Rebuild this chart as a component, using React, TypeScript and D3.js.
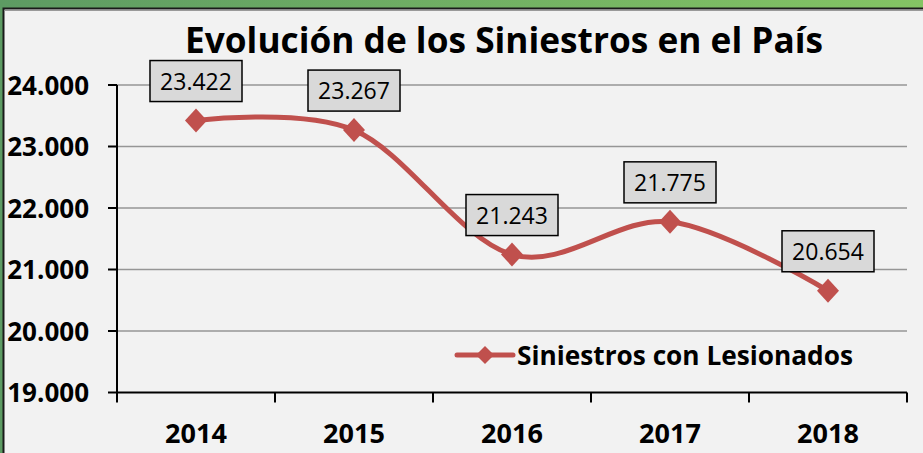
import React from "react";
import * as d3 from "d3";

const years = ["2014", "2015", "2016", "2017", "2018"];
const values = [23422, 23267, 21243, 21775, 20654];
const yTicks = [19000, 20000, 21000, 22000, 23000, 24000];
const seriesName = "Siniestros con Lesionados";
const title = "Evolución de los Siniestros en el País";

const W = 923;
const H = 453;
const RED = "#c0504d";
const FONT = "'Open Sans', 'DejaVu Sans', sans-serif";

const fmt = (v: number) => d3.format(",")(v).replace(/,/g, ".");

export default function App() {
  const x = d3.scaleBand<string>().domain(years).range([117, 907]);
  const y = d3.scaleLinear().domain([19000, 24000]).range([392.5, 85]);
  const cx = (yr: string) => (x(yr) as number) + x.bandwidth() / 2;

  const line = d3
    .line<number>()
    .x((_, i) => cx(years[i]))
    .y((v) => y(v))
    .curve(d3.curveCardinal.tension(0));

  const diamond = (px: number, py: number, w: number, h: number) =>
    `M${px},${py - h} L${px + w},${py} L${px},${py + h} L${px - w},${py} Z`;

  const boundaries = [...years.map((yr) => x(yr) as number), 907];

  return (
    <svg
      width={W}
      height={H}
      style={{ position: "absolute", left: 0, top: 0, display: "block" }}
    >
      <defs>
        <linearGradient id="grn" x1="0" x2="1" y1="0" y2="0">
          <stop offset="0" stopColor="#5d9b63" />
          <stop offset="1" stopColor="#84c464" />
        </linearGradient>
      </defs>
      <rect x={0} y={0} width={W} height={H} fill="url(#grn)" />
      <rect
        x={3.5}
        y={8.5}
        width={W + 10}
        height={H + 10}
        fill="#f2f2f2"
        stroke="#1a1a1a"
        strokeWidth={2}
      />
      <line x1={4.5} x2={W} y1={10.5} y2={10.5} stroke="#9a9a9a" strokeWidth={1} />

      <text
        x={504}
        y={53}
        textAnchor="middle"
        fontFamily={FONT}
        fontWeight="bold"
        fontSize={35}
        textLength={638}
        lengthAdjust="spacingAndGlyphs"
        fill="#000"
      >
        {title}
      </text>

      {/* gridlines */}
      {yTicks
        .filter((t) => t > 19000)
        .map((t) => (
          <line
            key={t}
            x1={117}
            x2={907}
            y1={y(t)}
            y2={y(t)}
            stroke="#969696"
            strokeWidth={1.6}
          />
        ))}

      {/* y axis */}
      <line x1={117} x2={117} y1={y(24000)} y2={y(19000)} stroke="#000" strokeWidth={2} />
      {yTicks.map((t) => (
        <g key={t}>
          <line x1={108} x2={117} y1={y(t)} y2={y(t)} stroke="#000" strokeWidth={2} />
          <text
            x={89}
            y={y(t) + 9.5}
            textAnchor="end"
            fontFamily={FONT}
            fontWeight="bold"
            fontSize={26}
            fill="#000"
          >
            {fmt(t)}
          </text>
        </g>
      ))}

      {/* x axis */}
      <line x1={117} x2={907} y1={y(19000)} y2={y(19000)} stroke="#000" strokeWidth={2} />
      {boundaries.map((b, i) => (
        <line key={i} x1={b} x2={b} y1={y(19000)} y2={y(19000) + 10} stroke="#000" strokeWidth={2} />
      ))}
      {years.map((yr) => (
        <text
          key={yr}
          x={cx(yr)}
          y={443}
          textAnchor="middle"
          fontFamily={FONT}
          fontWeight="bold"
          fontSize={27}
          fill="#000"
        >
          {yr}
        </text>
      ))}

      {/* series */}
      <path d={line(values) as string} fill="none" stroke={RED} strokeWidth={5} strokeLinecap="round" />
      {values.map((v, i) => (
        <path key={i} d={diamond(cx(years[i]), y(v), 11, 12)} fill={RED} />
      ))}

      {/* data labels */}
      {values.map((v, i) => {
        const px = cx(years[i]);
        const top = y(v) - 60;
        return (
          <g key={i}>
            <rect
              x={px - 46}
              y={top}
              width={92}
              height={41}
              fill="#d9d9d9"
              stroke="#000"
              strokeWidth={1.5}
            />
            <text
              x={px}
              y={top + 29}
              textAnchor="middle"
              fontFamily={FONT}
              fontSize={23}
              fill="#000"
            >
              {fmt(v)}
            </text>
          </g>
        );
      })}

      {/* legend */}
      <line x1={457} x2={513} y1={355} y2={355} stroke={RED} strokeWidth={5} strokeLinecap="round" />
      <path d={diamond(485, 355, 9, 9)} fill={RED} />
      <text
        x={517}
        y={365}
        fontFamily={FONT}
        fontWeight="bold"
        fontSize={27}
        textLength={336}
        lengthAdjust="spacingAndGlyphs"
        fill="#000"
      >
        {seriesName}
      </text>
    </svg>
  );
}
